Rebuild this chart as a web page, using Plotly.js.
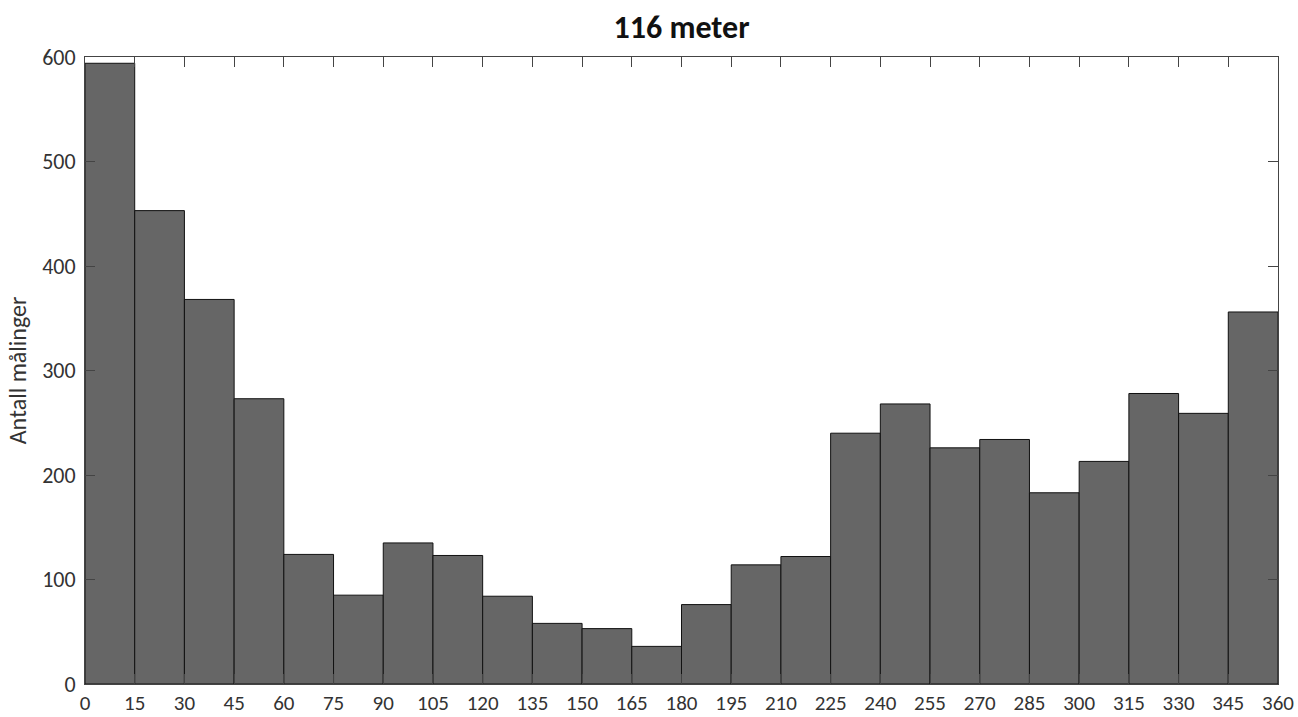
<!DOCTYPE html>
<html>
<head>
<meta charset="utf-8">
<script src="https://cdn.plot.ly/plotly-3.0.1.min.js"></script>
<style>html,body{margin:0;padding:0;background:#fff;}#chart{width:1298px;height:717px;}</style>
</head>
<body>
<div id="chart"></div>
<script>
const binStarts = [0,15,30,45,60,75,90,105,120,135,150,165,180,195,210,225,240,255,270,285,300,315,330,345];
const counts = [594,453,368,273,124,85,135,123,84,58,53,36,76,114,122,240,268,226,234,183,213,278,259,356];
const xTicks = [0,15,30,45,60,75,90,105,120,135,150,165,180,195,210,225,240,255,270,285,300,315,330,345,360];
const yTicks = [0,100,200,300,400,500,600];
const binWidth = 15;

const fontFam = "Carlito, Lato, 'Open Sans', sans-serif";

Plotly.newPlot('chart', [{
  type: 'bar',
  x: binStarts,
  y: counts,
  width: binWidth,
  offset: 0,
  marker: {color: '#666666', line: {color: '#111111', width: 1}},
  hoverinfo: 'x+y'
}], {
  width: 1298, height: 717,
  margin: {l: 85, r: 20, t: 57, b: 33},
  paper_bgcolor: '#ffffff', plot_bgcolor: '#ffffff',
  bargap: 0,
  showlegend: false,
  font: {family: fontFam, color: '#333333', size: 22},
  title: {text: '<b>116 meter</b>', xref: 'paper', x: 0.5, xanchor: 'center', y: 0.962, yanchor: 'middle',
          font: {family: fontFam, size: 32, color: '#111111'}},
  xaxis: {
    range: [0, 360], tickvals: xTicks, ticktext: xTicks.map(String),
    ticks: 'inside', ticklen: 10, tickcolor: '#444444', tickwidth: 1,
    showline: true, linecolor: '#444444', linewidth: 1, mirror: 'ticks',
    showgrid: false, zeroline: false,
    tickfont: {family: fontFam, size: 21, color: '#333333'}
  },
  yaxis: {
    range: [0, 600], tickvals: yTicks, ticktext: yTicks.map(String),
    ticks: 'inside', ticklen: 10, tickcolor: '#444444', tickwidth: 1,
    showline: true, linecolor: '#444444', linewidth: 1, mirror: 'ticks',
    showgrid: false, zeroline: false, ticklabelstandoff: 4,
    tickfont: {family: fontFam, size: 22, color: '#333333'},
    title: {text: 'Antall målinger', font: {family: fontFam, size: 24, color: '#333333'}, standoff: 8}
  }
}, {displayModeBar: false, staticPlot: true});
</script>
</body>
</html>
